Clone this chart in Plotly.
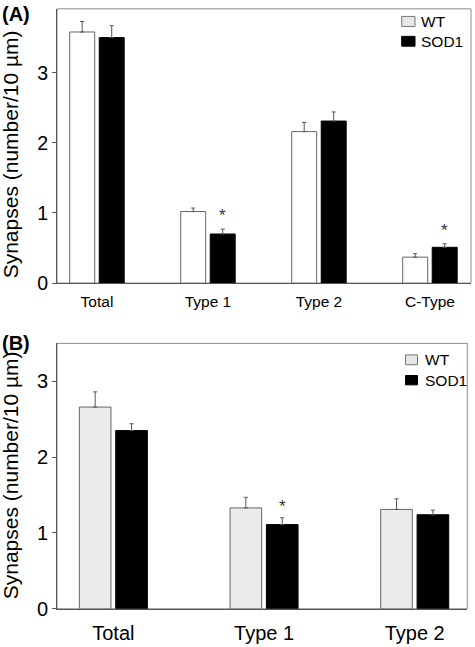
import plotly.graph_objects as go

# ---------------- data ----------------
cats_A = ["Total", "Type 1", "Type 2", "C-Type"]
wt_A = [3.58, 1.02, 2.16, 0.37]
wt_A_err = [0.15, 0.05, 0.13, 0.05]
sod_A = [3.50, 0.70, 2.31, 0.51]
sod_A_err = [0.17, 0.07, 0.13, 0.05]
sig_A = ["", "*", "", "*"]

cats_B = ["Total", "Type 1", "Type 2"]
wt_B = [2.66, 1.33, 1.31]
wt_B_err = [0.20, 0.14, 0.14]
sod_B = [2.35, 1.11, 1.24]
sod_B_err = [0.09, 0.09, 0.06]
sig_B = ["", "*", ""]

series_names = ["WT", "SOD1"]
y_ticks = [0, 1, 2, 3]
panel_labels = ["(A)", "(B)"]
y_title = "Synapses (number/10 µm)"

# ---------------- layout helpers ----------------
W, H = 475, 647
FONT = "Liberation Sans, Arial, sans-serif"


def px(x):
    return x / W


def py(y):
    return 1 - y / H


fig = go.Figure()

panels = [
    dict(cats=cats_A, wt=wt_A, wte=wt_A_err, sod=sod_A, sode=sod_A_err, sig=sig_A,
         xa="x", ya="y", wt_color="#ffffff", slot=0.266, bw=0.225,
         xrange=[-0.36, 3.37], yrange=[0, 3.91],
         xdom=[px(57), px(471)], ydom=[py(288), py(9)],
         xfont=15.5, yfont=19.5, sigshift=2, xstand=4,
         leg=dict(x0=401.7, x1=415, rows=[(16.7, 27), (37, 47)], tx=419),
         lab_y=14, title_y=157),
    dict(cats=cats_B, wt=wt_B, wte=wt_B_err, sod=sod_B, sode=sod_B_err, sig=sig_B,
         xa="x2", ya="y2", wt_color="#ebebeb", slot=0.2415, bw=0.21,
         xrange=[-0.374, 2.349], yrange=[0, 3.5],
         xdom=[px(57), px(467.3)], ydom=[py(619.3), py(349.3)],
         xfont=20, yfont=20, sigshift=0, xstand=6,
         leg=dict(x0=405.5, x1=417.5, rows=[(361, 371), (382, 391.5)], tx=423),
         lab_y=349, title_y=483.5),
]

shapes = []
annotations = []

for i, p in enumerate(panels):
    half = p["slot"] / 2
    bw = p["bw"]
    err_style = dict(type="data", symmetric=False, color="#555555",
                     thickness=1, width=2)
    fig.add_trace(go.Bar(
        x=p["cats"], y=p["wt"], name=series_names[0], xaxis=p["xa"], yaxis=p["ya"],
        width=bw, offset=-half - bw / 2,
        marker=dict(color=p["wt_color"], line=dict(color="#666666", width=1)),
        error_y=dict(array=p["wte"], arrayminus=[0] * len(p["wte"]), **err_style),
        showlegend=False,
    ))
    fig.add_trace(go.Bar(
        x=p["cats"], y=p["sod"], name=series_names[1], xaxis=p["xa"], yaxis=p["ya"],
        width=bw, offset=half - bw / 2,
        marker=dict(color="#000000", line=dict(color="#000000", width=1)),
        error_y=dict(array=p["sode"], arrayminus=[0] * len(p["sode"]), **err_style),
        showlegend=False,
    ))

    sfx = "" if i == 0 else "2"
    fig.layout["xaxis" + sfx] = dict(
        domain=p["xdom"], anchor="y" + sfx, range=p["xrange"], type="category",
        showline=True, linecolor="#555555", linewidth=1, mirror=False,
        ticks="", showgrid=False, zeroline=False, ticklabelstandoff=p["xstand"],
        tickfont=dict(family=FONT, size=p["xfont"], color="black"),
        categoryorder="array", categoryarray=p["cats"], fixedrange=True,
    )
    fig.layout["yaxis" + sfx] = dict(
        domain=p["ydom"], anchor="x" + sfx, range=p["yrange"],
        showline=True, linecolor="#555555", linewidth=1, mirror=False,
        ticks="outside", ticklen=4, tickcolor="#555555",
        tickvals=y_ticks, showgrid=False, zeroline=False,
        tickfont=dict(family=FONT, size=p["yfont"], color="black"),
        fixedrange=True,
    )

    # plot frame (top/right lighter)
    shapes.append(dict(type="rect", xref=f"x{sfx} domain", yref=f"y{sfx} domain",
                       x0=0, x1=1, y0=0, y1=1, layer="below",
                       line=dict(color="#8c8c8c", width=1)))

    # significance marks above SOD1 error bars
    for j, s in enumerate(p["sig"]):
        if s:
            annotations.append(dict(
                x=j + half, y=p["sod"][j] + p["sode"][j], xref=p["xa"], yref=p["ya"],
                text=s, showarrow=False, yanchor="bottom", yshift=p["sigshift"],
                font=dict(family=FONT, size=17, color="#333333")))

    # legend
    lg = p["leg"]
    leg_fills = ["#e6e6e6", "#000000"]
    leg_lines = ["#777777", "#000000"]
    for k, (y0, y1) in enumerate(lg["rows"]):
        shapes.append(dict(type="rect", xref="paper", yref="paper",
                           x0=px(lg["x0"]), x1=px(lg["x1"]), y0=py(y1), y1=py(y0),
                           fillcolor=leg_fills[k], line=dict(color=leg_lines[k], width=1)))
        annotations.append(dict(
            x=px(lg["tx"]), y=py((y0 + y1) / 2), xref="paper", yref="paper",
            text=series_names[k], showarrow=False, xanchor="left", yanchor="middle",
            font=dict(family=FONT, size=15.5, color="black")))

    # panel label
    annotations.append(dict(
        x=0, y=py(p["lab_y"]), xref="paper", yref="paper", text=f"<b>{panel_labels[i]}</b>",
        showarrow=False, xanchor="left", yanchor="middle",
        font=dict(family=FONT, size=20, color="black")))

    # y title
    annotations.append(dict(
        x=px(10), y=py(p["title_y"]), xref="paper", yref="paper", text=y_title,
        textangle=-90, showarrow=False, xanchor="center", yanchor="middle",
        font=dict(family=FONT, size=21, color="black")))

fig.update_layout(
    width=W, height=H, margin=dict(l=0, r=0, t=0, b=0),
    paper_bgcolor="white", plot_bgcolor="white",
    barmode="overlay", showlegend=False,
    shapes=shapes, annotations=annotations,
    font=dict(family=FONT, color="black"),
)

fig.write_html("out.html", config={"displayModeBar": False},
               post_script="document.body.style.margin='0';document.body.style.overflow='hidden';")
